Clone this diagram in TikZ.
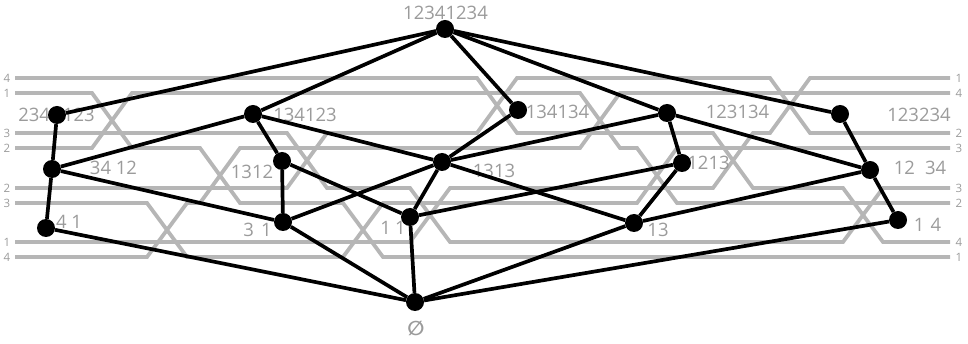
\documentclass[tikz,border=0pt]{standalone}
\usepackage{fontspec}
\setmainfont{Open Sans}
\newfontfamily\symfont{DejaVu Sans}
\definecolor{wire}{RGB}{182,182,182}
\definecolor{lbl}{RGB}{155,155,155}
\begin{document}
\begin{tikzpicture}[x=1pt,y=-1pt,
  wirepath/.style={draw=wire,line width=3.8pt},
  edge/.style={draw=black,line width=3.7pt},
  vtx/.style={circle,fill=black,inner sep=0pt,minimum size=18pt},
  chamber/.style={text=lbl,inner sep=0pt,font=\fontsize{18.5}{20}\selectfont},
  endlbl/.style={text=lbl,inner sep=0pt,font=\fontsize{11.5}{12}\selectfont}]
\useasboundingbox (0,0) rectangle (968,344);

% ---- double wiring diagram: first family (rows 93,148,203,257)
\draw[wirepath] (15,93)--(92,93)--(132,148)--(200,148)--(240,203)--(343,203)--(383,257)--(950,257);
\draw[wirepath] (15,148)--(92,148)--(132,93)--(580,93)--(620,148)--(637,148)--(677,203)--(950,203);
\draw[wirepath] (15,203)--(147,203)--(187,257)--(343,257)--(383,203)--(637,203)--(677,148)--(950,148);
\draw[wirepath] (15,257)--(147,257)--(187,203)--(200,203)--(240,148)--(580,148)--(620,93)--(950,93);
% ---- second family (rows 78,133,188,242)
\draw[wirepath] (15,78)--(477,78)--(517,133)--(713,133)--(753,188)--(843,188)--(883,242)--(950,242);
\draw[wirepath] (15,133)--(287,133)--(327,188)--(410,188)--(450,242)--(843,242)--(883,188)--(950,188);
\draw[wirepath] (15,188)--(287,188)--(327,133)--(477,133)--(517,78)--(770,78)--(810,133)--(950,133);
\draw[wirepath] (15,242)--(410,242)--(450,188)--(713,188)--(753,133)--(770,133)--(810,78)--(950,78);

% ---- wire end labels
\foreach \y/\l in {78/4,93/1,133/3,148/2,188/2,203/3,242/1,257/4}
  \node[endlbl] (L\y) at (7,\y) {\l};
\foreach \y/\l in {78/1,93/4,133/2,148/3,188/3,203/2,242/4,257/1}
  \node[endlbl] (R\y) at (959,\y) {\l};

% ---- chamber labels
\node[chamber] (tTop) at (445.5,13) {12341234};
\node[chamber] (tA1) at (56.5,115) {234\hspace{13pt}123};
\node[chamber] (tB1) at (113.5,168) {34 12};
\node[chamber] (tC1) at (69,222) {4 1};
\node[chamber] (tA2) at (305,115) {134123};
\node[chamber] (tB2) at (252,172) {1312};
\node[chamber] (tC2) at (257.5,230) {3\hspace{7pt}1};
\node[chamber] (tA3) at (557.5,112) {134134};
\node[chamber] (tB3) at (494,171) {1313};
\node[chamber] (tC3) at (393,228) {1\hspace{4pt}1};
\node[chamber] (tA4) at (737.5,112) {123134};
\node[chamber] (tB4) at (708.5,163) {1213};
\node[chamber] (tC4) at (658,230) {13};
\node[chamber] (tA5) at (919,115) {123234};
\node[chamber] (tB5) at (920,168) {12\hspace{10pt}34};
\node[chamber] (tC5) at (927.5,225) {1\hspace{6pt}4};
\node[text=lbl,inner sep=0pt,font=\symfont\bfseries\fontsize{20}{22}\selectfont] (tBot) at (416,328) {∅};

% ---- vertices
\node[vtx] (top) at (445,29) {};
\node[vtx] (a1) at (57,115) {};
\node[vtx] (b1) at (52,169) {};
\node[vtx] (c1) at (46,228) {};
\node[vtx] (a2) at (253,114) {};
\node[vtx] (b2) at (282,161) {};
\node[vtx] (c2) at (283,222) {};
\node[vtx] (a3) at (518,110) {};
\node[vtx] (b3) at (442,162) {};
\node[vtx] (c3) at (410,217) {};
\node[vtx] (a4) at (667,113) {};
\node[vtx] (b4) at (682,163) {};
\node[vtx] (c4) at (634,223) {};
\node[vtx] (a5) at (840,114) {};
\node[vtx] (b5) at (870,170) {};
\node[vtx] (c5) at (898,220) {};
\node[vtx] (bot) at (415,302) {};

% ---- covering relations
\foreach \u in {a1,a2,a3,a4,a5} \draw[edge] (top) -- (\u);
\foreach \u/\v in {a1/b1, a2/b1, a2/b2, a2/b3, a3/b3, a4/b3, a4/b4, a4/b5, a5/b5,
                   b1/c1, b1/c2, b2/c2, b2/c3, b3/c2, b3/c3, b3/c4, b4/c3, b4/c4, b5/c4, b5/c5}
  \draw[edge] (\u) -- (\v);
\foreach \u in {c1,c2,c3,c4,c5} \draw[edge] (\u) -- (bot);
\end{tikzpicture}
\end{document}
